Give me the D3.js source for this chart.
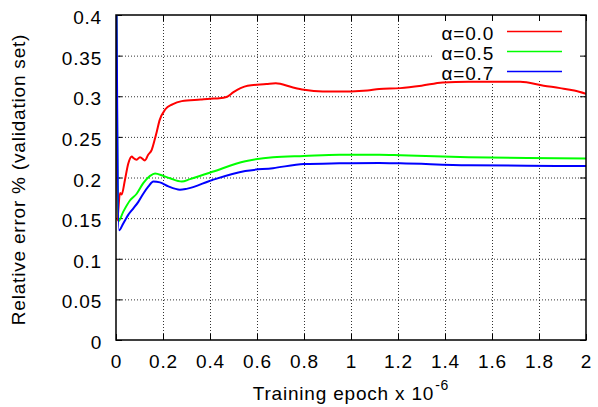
<!DOCTYPE html>
<html>
<head>
<meta charset="utf-8">
<script src="https://cdn.jsdelivr.net/npm/d3@7/dist/d3.min.js"></script>
<style>
  html, body { margin: 0; padding: 0; background: #fff; }
  svg { display: block; }
  text { font-family: "Liberation Sans", Arial, Helvetica, sans-serif; font-size: 19px; letter-spacing: 0.8px; fill: #000; }
</style>
</head>
<body>
<svg id="chart" width="598" height="407"></svg>
<script>
// Validation error over training for three values of alpha
const epochsA0 = [0, 0.005, 0.017, 0.024, 0.038, 0.052, 0.067, 0.074, 0.088, 0.102, 0.123, 0.137, 0.152, 0.166, 0.174, 0.185, 0.21, 0.24, 0.28, 0.36, 0.40, 0.44, 0.47, 0.50, 0.53, 0.56, 0.64, 0.68, 0.75, 0.80, 0.88, 0.95, 1.0, 1.07, 1.12, 1.21, 1.30, 1.39, 1.50, 1.60, 1.72, 1.82, 1.89, 1.95, 2.0];
const errorA0  = [0.5, 0.147, 0.181, 0.179, 0.197, 0.217, 0.226, 0.224, 0.222, 0.225, 0.221, 0.228, 0.234, 0.248, 0.257, 0.270, 0.284, 0.290, 0.294, 0.296, 0.297, 0.2975, 0.299, 0.305, 0.310, 0.313, 0.315, 0.316, 0.311, 0.308, 0.306, 0.306, 0.306, 0.307, 0.309, 0.310, 0.313, 0.317, 0.318, 0.318, 0.318, 0.313, 0.310, 0.307, 0.303];

const epochsA5 = [0, 0.010, 0.031, 0.060, 0.088, 0.116, 0.145, 0.166, 0.201, 0.230, 0.280, 0.315, 0.41, 0.55, 0.668, 0.80, 0.95, 1.12, 1.21, 1.50, 1.75, 2.0];
const errorA5  = [0.5, 0.146, 0.158, 0.172, 0.180, 0.193, 0.202, 0.205, 0.202, 0.199, 0.195, 0.198, 0.207, 0.220, 0.225, 0.2265, 0.228, 0.228, 0.2275, 0.225, 0.224, 0.2235];

const epochsA7 = [0, 0.013, 0.031, 0.052, 0.074, 0.095, 0.116, 0.138, 0.159, 0.187, 0.223, 0.272, 0.30, 0.41, 0.55, 0.668, 0.80, 0.95, 1.12, 1.21, 1.50, 1.75, 2.0];
const errorA7  = [0.5, 0.135, 0.1435, 0.154, 0.162, 0.170, 0.180, 0.189, 0.195, 0.194, 0.189, 0.185, 0.186, 0.197, 0.208, 0.2115, 0.2166, 0.2175, 0.218, 0.2175, 0.215, 0.2145, 0.214];

const seriesNames  = ["\u03b1=0.0", "\u03b1=0.5", "\u03b1=0.7"];
const seriesColors = ["#ff0000", "#00ff00", "#0000ff"];

const xTicks = [0, 0.2, 0.4, 0.6, 0.8, 1, 1.2, 1.4, 1.6, 1.8, 2];
const xTickLabels = ["0", "0.2", "0.4", "0.6", "0.8", "1", "1.2", "1.4", "1.6", "1.8", "2"];
const yTicks = [0, 0.05, 0.1, 0.15, 0.2, 0.25, 0.3, 0.35, 0.4];
const yTickLabels = ["0", "0.05", "0.1", "0.15", "0.2", "0.25", "0.3", "0.35", "0.4"];

const xTitle = "Training epoch x 10";
const xTitleExp = "-6";
const yTitle = "Relative error % (validation set)";

const series = [
  { name: seriesNames[0], color: seriesColors[0], xs: epochsA0, ys: errorA0 },
  { name: seriesNames[1], color: seriesColors[1], xs: epochsA5, ys: errorA5 },
  { name: seriesNames[2], color: seriesColors[2], xs: epochsA7, ys: errorA7 }
];

const margin = { left: 116, top: 15, right: 12, bottom: 67 };
const W = 598, H = 407;
const iw = W - margin.left - margin.right;
const ih = H - margin.top - margin.bottom;

const svg = d3.select("#chart");
const g = svg.append("g").attr("transform", `translate(${margin.left},${margin.top})`);

const x = d3.scaleLinear().domain([0, 2]).range([0, iw]);
const y = d3.scaleLinear().domain([0, 0.4]).range([ih, 0]);

// dotted grid
const gridX = g.append("g").attr("transform", `translate(0,${ih})`)
  .call(d3.axisBottom(x).tickValues(xTicks.slice(1, -1)).tickSize(-ih).tickFormat(""));
const gridY = g.append("g")
  .call(d3.axisLeft(y).tickValues(yTicks.slice(1, -1)).tickSize(-iw).tickFormat(""));
[gridX, gridY].forEach(s => {
  s.select(".domain").remove();
  s.selectAll("line")
    .attr("stroke", "#333").attr("stroke-width", 1)
    .attr("stroke-dasharray", "1,2");
});

// legend background hides the grid behind the key
const legendBox = { x0: x(1.345), x1: iw - 2, y0: 1, y1: 66 };
g.append("rect")
  .attr("x", legendBox.x0).attr("y", legendBox.y0)
  .attr("width", legendBox.x1 - legendBox.x0).attr("height", legendBox.y1 - legendBox.y0)
  .attr("fill", "#fff");

// inward ticks on all four sides
const tickLen = 6;
const axB = g.append("g").attr("transform", `translate(0,${ih})`)
  .call(d3.axisBottom(x).tickValues(xTicks).tickSizeInner(-tickLen).tickSizeOuter(0).tickPadding(15)
    .tickFormat((d, i) => xTickLabels[i]));
const axT = g.append("g")
  .call(d3.axisTop(x).tickValues(xTicks).tickSizeInner(-tickLen).tickSizeOuter(0).tickFormat(""));
const axL = g.append("g")
  .call(d3.axisLeft(y).tickValues(yTicks).tickSizeInner(-tickLen).tickSizeOuter(0).tickPadding(14)
    .tickFormat((d, i) => yTickLabels[i]));
const axR = g.append("g").attr("transform", `translate(${iw},0)`)
  .call(d3.axisRight(y).tickValues(yTicks).tickSizeInner(-tickLen).tickSizeOuter(0).tickFormat(""));
[axB, axT, axL, axR].forEach(s => {
  s.select(".domain").remove();
  s.selectAll("line").attr("stroke", "#000").attr("stroke-width", 1);
  s.selectAll("text").attr("font-size", null).attr("font-family", null).attr("fill", "#000");
});
axL.selectAll("text").attr("dy", "0.45em");

// curves, clipped to the plot area
g.append("clipPath").attr("id", "plotClip")
  .append("rect").attr("x", 0).attr("y", 0).attr("width", iw).attr("height", ih);

const line = d3.line()
  .x(d => x(d[0]))
  .y(d => y(d[1]))
  .curve(d3.curveMonotoneX);

const curves = g.append("g").attr("clip-path", "url(#plotClip)");
series.forEach(s => {
  const pts = s.xs.map((v, i) => [v, s.ys[i]]);
  curves.append("path")
    .datum(pts)
    .attr("d", line)
    .attr("fill", "none")
    .attr("stroke", s.color)
    .attr("stroke-width", 2)
    .attr("stroke-linejoin", "round");
});

// frame
g.append("rect")
  .attr("x", 0).attr("y", 0).attr("width", iw).attr("height", ih)
  .attr("fill", "none").attr("stroke", "#000").attr("stroke-width", 1.5);

// key
const key = g.append("g");
series.forEach((s, i) => {
  const by = 25 + i * 20;
  key.append("text")
    .attr("x", 378).attr("y", by)
    .attr("text-anchor", "end")
    .text(s.name);
  key.append("line")
    .attr("x1", 391).attr("x2", 446)
    .attr("y1", by - 8.5).attr("y2", by - 8.5)
    .attr("stroke", s.color).attr("stroke-width", 1.5);
});

// axis titles
svg.append("text")
  .attr("x", margin.left + iw / 2).attr("y", 399.5)
  .attr("text-anchor", "middle")
  .call(t => {
    t.append("tspan").text(xTitle);
    t.append("tspan").attr("font-size", "14px").attr("dy", -10).attr("dx", 1).text(xTitleExp);
  });

svg.append("text")
  .attr("transform", `translate(25,${margin.top + ih / 2 + 2}) rotate(-90)`)
  .attr("text-anchor", "middle")
  .text(yTitle);
</script>
</body>
</html>
